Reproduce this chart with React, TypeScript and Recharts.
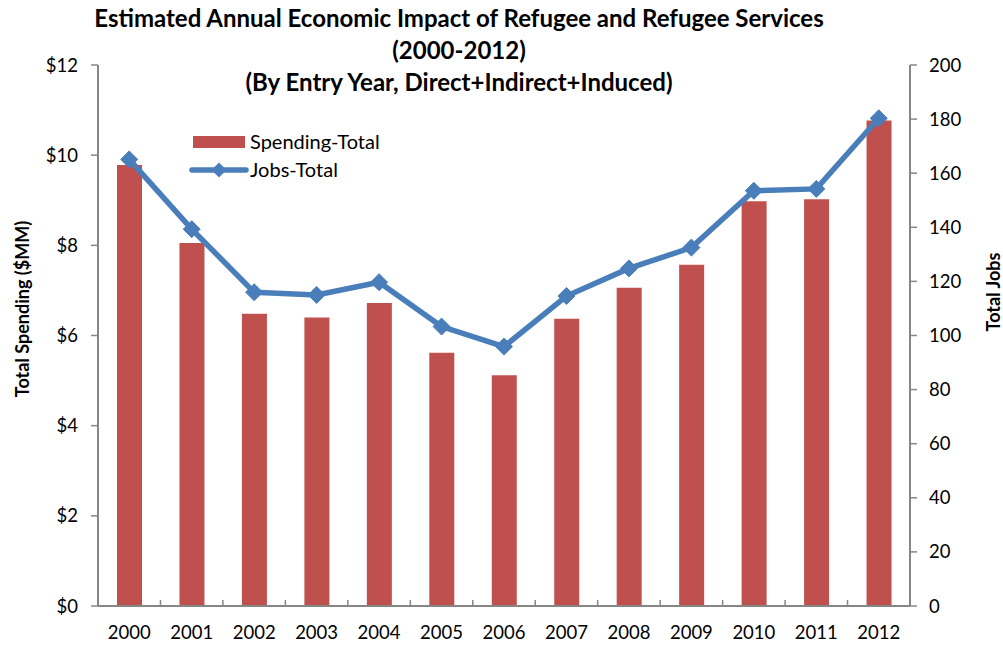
import { ComposedChart, Bar, Line, XAxis, YAxis } from "recharts";

const years = ["2000", "2001", "2002", "2003", "2004", "2005", "2006", "2007", "2008", "2009", "2010", "2011", "2012"];
const spendingTotal = [9.78, 8.05, 6.48, 6.4, 6.72, 5.62, 5.12, 6.37, 7.06, 7.57, 8.98, 9.02, 10.77];
const jobsTotal = [165.1, 139.3, 116.0, 115.0, 119.7, 103.3, 95.9, 114.6, 124.8, 132.5, 153.5, 154.2, 180.3];
const spendingTicks = [0, 2, 4, 6, 8, 10, 12];
const jobsTicks = [0, 20, 40, 60, 80, 100, 120, 140, 160, 180, 200];

const data = years.map((year, i) => ({
  year,
  spending: spendingTotal[i],
  jobs: jobsTotal[i],
}));

const FONT = "Lato, 'Open Sans', sans-serif";
const AXIS = "#868686";
const RED = "#C0504D";
const BLUE = "#4A7EBB";

const W = 1003;
const H = 645;
const PLOT_LEFT = 98;
const PLOT_RIGHT = 910;
const BAND = (PLOT_RIGHT - PLOT_LEFT) / years.length;

// diamond marker like the excel one
const Diamond = (props: any) => {
  const { cx, cy } = props;
  if (cx == null || cy == null) return null;
  const r = 8.5;
  return (
    <path
      d={`M${cx},${cy - r} L${cx + r},${cy} L${cx},${cy + r} L${cx - r},${cy} Z`}
      fill={BLUE}
      stroke={BLUE}
    />
  );
};

// year label plus the small category separator tick
const YearTick = (props: any) => {
  const { x, payload } = props;
  const axisY = H - 39;
  return (
    <g>
      <line x1={x - BAND / 2} x2={x - BAND / 2} y1={axisY} y2={axisY - 6} stroke={AXIS} strokeWidth={1.5} />
      <text x={x} y={axisY + 33} textAnchor="middle" fontSize={18.5} fontFamily={FONT} fill="#000">
        {payload.value}
      </text>
    </g>
  );
};

const App = () => {
  return (
    <div style={{ position: "absolute", left: 0, top: 0, width: W, height: H, background: "#fff", fontFamily: FONT, overflow: "hidden" }}>
      <div
        style={{
          position: "absolute",
          left: 459 - 450,
          width: 900,
          top: 2,
          textAlign: "center",
          fontWeight: 700,
          fontSize: 24,
          lineHeight: "32px",
          color: "#000",
        }}
      >
        <div>Estimated Annual Economic Impact of Refugee and Refugee Services</div>
        <div>(2000-2012)</div>
        <div>(By Entry Year, Direct+Indirect+Induced)</div>
      </div>

      <ComposedChart
        width={W}
        height={H}
        data={data}
        margin={{ top: 65, right: 33, left: 38, bottom: 9 }}
        barSize={25}
      >
        <XAxis
          dataKey="year"
          axisLine={{ stroke: AXIS, strokeWidth: 2 }}
          tickLine={false}
          height={30}
          interval={0}
          tick={<YearTick />}
        />
        <YAxis
          yAxisId="left"
          orientation="left"
          domain={[0, 12]}
          ticks={spendingTicks}
          width={60}
          axisLine={{ stroke: AXIS, strokeWidth: 2 }}
          tickLine={{ stroke: AXIS, strokeWidth: 1.5 }}
          tickSize={7}
          tickMargin={13}
          tickFormatter={(v: number) => `$${v}`}
          tick={{ fontSize: 18.5, fontFamily: FONT, fill: "#000" }}
        />
        <YAxis
          yAxisId="right"
          orientation="right"
          domain={[0, 200]}
          ticks={jobsTicks}
          width={60}
          axisLine={{ stroke: AXIS, strokeWidth: 2 }}
          tickLine={{ stroke: AXIS, strokeWidth: 1.5 }}
          tickSize={7}
          tickMargin={12}
          tick={{ fontSize: 18.5, fontFamily: FONT, fill: "#000", textAnchor: "start" }}
        />
        <Bar yAxisId="left" dataKey="spending" name="Spending-Total" fill={RED} isAnimationActive={false} />
        <Line
          yAxisId="right"
          dataKey="jobs"
          name="Jobs-Total"
          type="linear"
          stroke={BLUE}
          strokeWidth={5.5}
          dot={<Diamond />}
          activeDot={false}
          isAnimationActive={false}
        />
      </ComposedChart>

      {/* legend */}
      <div style={{ position: "absolute", left: 193, top: 136, width: 52, height: 12, background: RED }} />
      <div style={{ position: "absolute", left: 250, top: 128, fontSize: 20, lineHeight: "26px" }}>Spending-Total</div>
      <svg style={{ position: "absolute", left: 188, top: 159 }} width={62} height={22}>
        <line x1={4} x2={58} y1={11} y2={11} stroke={BLUE} strokeWidth={5.5} strokeLinecap="round" />
        <path d="M31,3.5 L38.5,11 L31,18.5 L23.5,11 Z" fill={BLUE} />
      </svg>
      <div style={{ position: "absolute", left: 250, top: 156, fontSize: 20, lineHeight: "26px" }}>Jobs-Total</div>

      {/* axis titles */}
      <div
        style={{
          position: "absolute",
          left: 22 - 130,
          top: 309 - 11,
          width: 260,
          height: 22,
          lineHeight: "22px",
          textAlign: "center",
          fontWeight: 700,
          fontSize: 18,
          transform: "rotate(-90deg)",
        }}
      >
        Total Spending ($MM)
      </div>
      <div
        style={{
          position: "absolute",
          left: 993 - 60,
          top: 292 - 11,
          width: 120,
          height: 22,
          lineHeight: "22px",
          textAlign: "center",
          fontWeight: 700,
          fontSize: 18,
          transform: "rotate(-90deg)",
        }}
      >
        Total Jobs
      </div>
    </div>
  );
};

export default App;
